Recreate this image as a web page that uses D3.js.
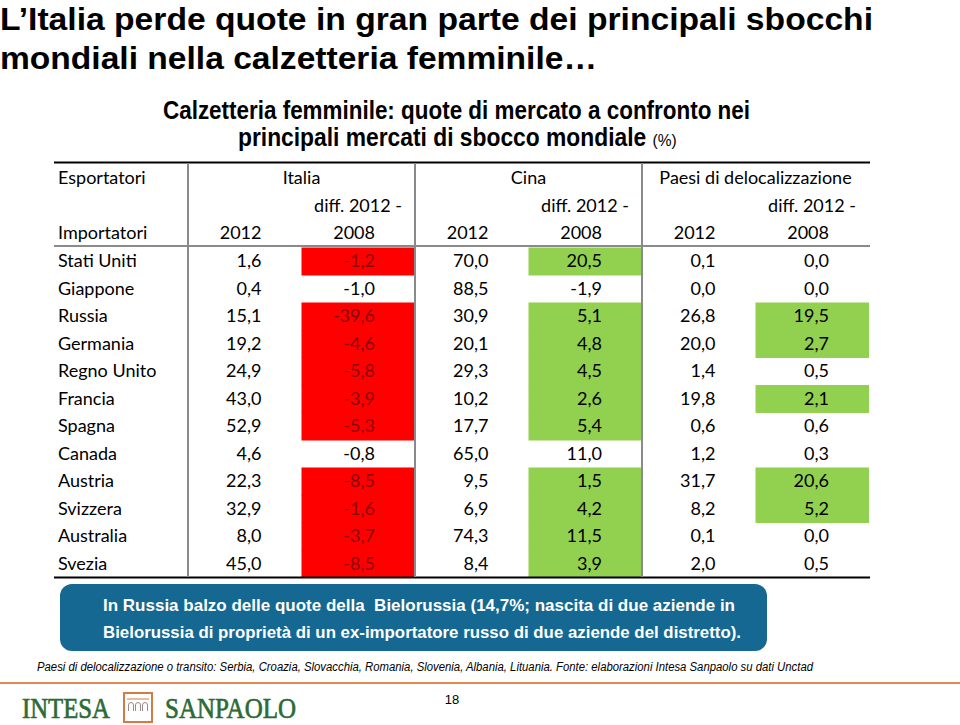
<!DOCTYPE html>
<html><head><meta charset="utf-8">
<script src="https://cdn.jsdelivr.net/npm/d3@7"></script>
<style>body{margin:0;background:#fff}svg{display:block}</style>
</head><body>
<svg id="c" width="960" height="725"></svg>
<script>
const titleLines = ["L\u2019Italia perde quote in gran parte dei principali sbocchi", "mondiali nella calzetteria femminile\u2026"];
const subtitleLines = ["Calzetteria femminile: quote di mercato a confronto nei", "principali mercati di sbocco mondiale"];
const groups = ["Italia", "Cina", "Paesi di delocalizzazione"];
const countries = ["Stati Uniti","Giappone","Russia","Germania","Regno Unito","Francia","Spagna","Canada","Austria","Svizzera","Australia","Svezia"];
const italia2012 = [1.6,0.4,15.1,19.2,24.9,43.0,52.9,4.6,22.3,32.9,8.0,45.0];
const italiaDiff = [-1.2,-1.0,-39.6,-4.6,-5.8,-3.9,-5.3,-0.8,-8.5,-1.6,-3.7,-8.5];
const cina2012 = [70.0,88.5,30.9,20.1,29.3,10.2,17.7,65.0,9.5,6.9,74.3,8.4];
const cinaDiff = [20.5,-1.9,5.1,4.8,4.5,2.6,5.4,11.0,1.5,4.2,11.5,3.9];
const paesi2012 = [0.1,0.0,26.8,20.0,1.4,19.8,0.6,1.2,31.7,8.2,0.1,2.0];
const paesiDiff = [0.0,0.0,19.5,2.7,0.5,2.1,0.6,0.3,20.6,5.2,0.0,0.5];
const italiaFlag = [1,0,1,1,1,1,1,0,1,1,1,1];
const cinaFlag = [1,0,1,1,1,1,1,0,1,1,1,1];
const paesiFlag = [0,0,1,1,0,1,0,0,1,1,0,0];
const boxLines = ["In Russia balzo delle quote della  Bielorussia (14,7%; nascita di due aziende in", "Bielorussia di propriet\u00e0 di un ex-importatore russo di due aziende del distretto)."];
const footnote = "Paesi di delocalizzazione o transito: Serbia, Croazia, Slovacchia, Romania, Slovenia, Albania, Lituania. Fonte: elaborazioni Intesa Sanpaolo su dati Unctad";
const pageNum = "18";

const svg = d3.select("#c");
const loc = d3.formatLocale({decimal:",", thousands:".", grouping:[3], currency:["","\u20ac"], minus:"-"});
const fmt = loc.format(".1f");

// Title
svg.append("g").selectAll("text").data(titleLines).join("text")
  .attr("x", 0).attr("y", (d,i)=> 30 + i*39)
  .attr("font-family","Liberation Sans, Arial, sans-serif").attr("font-weight","bold")
  .attr("font-size", 32).attr("fill","#000")
  .attr("textLength", (d,i)=> i===0 ? 873 : 597).attr("lengthAdjust","spacingAndGlyphs")
  .text(d=>d);

// Subtitle
svg.append("text").attr("x",163).attr("y",119)
  .attr("font-family","Liberation Sans, Arial, sans-serif").attr("font-weight","bold").attr("font-size",25)
  .attr("textLength",587).attr("lengthAdjust","spacingAndGlyphs").text(subtitleLines[0]);
// second line: condensed via horizontal scale so that its real box matches its drawn size
const st2 = svg.append("text").attr("x",0).attr("y",0)
  .attr("font-family","Liberation Sans, Arial, sans-serif");
st2.append("tspan").attr("font-weight","bold").attr("font-size",25).text(subtitleLines[1] + " ");
st2.append("tspan").attr("font-size",17).text("(%)");
const natW = st2.node().getComputedTextLength();
st2.attr("transform", `translate(238,146) scale(${439/natW},1)`);

// Table
const cols = ["it12","itd","cn12","cnd","pd12","pdd"];
const x = d3.scaleBand().domain(cols).range([188, 869]);
const y = d3.scaleBand().domain(countries).range([247.5, 577.5]);
const yh = d3.scaleBand().domain(["esp","diff","imp"]).range([164, 247]);
const tf = "Lato, 'Open Sans', sans-serif";
const T = svg.append("g").attr("font-family", tf).attr("font-size", 18);

const series = [
  {col:"it12", vals: italia2012, flags:null},
  {col:"itd", vals: italiaDiff, flags: italiaFlag, fill:"#ff0000", tc:"#8c0000"},
  {col:"cn12", vals: cina2012, flags:null},
  {col:"cnd", vals: cinaDiff, flags: cinaFlag, fill:"#92d050", tc:"#000"},
  {col:"pd12", vals: paesi2012, flags:null},
  {col:"pdd", vals: paesiDiff, flags: paesiFlag, fill:"#92d050", tc:"#000"}
];

// Cell fills
series.filter(s=>s.flags).forEach(s=>{
  T.append("g").selectAll("rect").data(countries.map((c,i)=>({c, f:s.flags[i]})).filter(d=>d.f)).join("rect")
    .attr("x", x(s.col)).attr("width", x.bandwidth())
    .attr("y", d=>y(d.c)).attr("height", y.bandwidth()+0.5)
    .attr("fill", s.fill);
});

// Lines
T.append("line").attr("x1",54).attr("x2",870).attr("y1",162.5).attr("y2",162.5).attr("stroke","#000").attr("stroke-width",2);
T.append("line").attr("x1",54).attr("x2",870).attr("y1",577.5).attr("y2",577.5).attr("stroke","#000").attr("stroke-width",2);
T.append("line").attr("x1",54).attr("x2",870).attr("y1",246).attr("y2",246).attr("stroke","#8a8a8a").attr("stroke-width",2);
T.append("g").selectAll("line").data(["it12","cn12","pd12"]).join("line")
  .attr("x1", d=>x(d)).attr("x2", d=>x(d)).attr("y1",163).attr("y2",577)
  .attr("stroke","#8a8a8a").attr("stroke-width",2);

// Header text
T.append("text").attr("x",58).attr("y",yh("esp")+yh.bandwidth()/2+6).text("Esportatori");
T.append("text").attr("x",58).attr("y",yh("imp")+yh.bandwidth()/2+6).text("Importatori");
const grpCols = [["it12","itd"],["cn12","cnd"],["pd12","pdd"]];
T.append("g").selectAll("text").data(groups).join("text")
  .attr("x",(d,i)=> (x(grpCols[i][0]) + x(grpCols[i][1]) + x.bandwidth())/2)
  .attr("y", yh("esp")+yh.bandwidth()/2+6).attr("text-anchor","middle").text(d=>d);
grpCols.forEach(gc=>{
  T.append("text").attr("x", x(gc[1])+x.bandwidth()-13).attr("y", yh("diff")+yh.bandwidth()/2+6)
    .attr("text-anchor","end").text("diff. 2012 -");
  T.append("text").attr("x", x(gc[1])+x.bandwidth()-40).attr("y", yh("imp")+yh.bandwidth()/2+6)
    .attr("text-anchor","end").text("2008");
  T.append("text").attr("x", x(gc[0])+x.bandwidth()-40).attr("y", yh("imp")+yh.bandwidth()/2+6)
    .attr("text-anchor","end").text("2012");
});

// Row labels
T.append("g").selectAll("text").data(countries).join("text")
  .attr("x",58).attr("y", d=>y(d)+y.bandwidth()/2+6).text(d=>d);

// Values
series.forEach(s=>{
  T.append("g").selectAll("text").data(s.vals.map((v,i)=>({v, c:countries[i], f: s.flags ? s.flags[i] : 0}))).join("text")
    .attr("x", x(s.col)+x.bandwidth()-40).attr("y", d=>y(d.c)+y.bandwidth()/2+6)
    .attr("text-anchor","end")
    .attr("fill", d=> d.f ? s.tc : "#000")
    .text(d=>fmt(d.v));
});

// Blue box
svg.append("rect").attr("x",60).attr("y",584).attr("width",707).attr("height",67).attr("rx",12).attr("fill","#156891");
svg.append("g").selectAll("text").data(boxLines).join("text")
  .attr("x",103).attr("y",(d,i)=>611+i*27)
  .style("white-space","pre")
  .attr("font-family","Liberation Sans, Arial, sans-serif").attr("font-weight","bold").attr("font-size",16.5)
  .attr("fill","#fff").attr("textLength",(d,i)=> i===0 ? 632 : 638).attr("lengthAdjust","spacingAndGlyphs")
  .text(d=>d);

// Footnote
svg.append("text").attr("x",37).attr("y",671)
  .attr("font-family","Liberation Sans, Arial, sans-serif").attr("font-style","italic").attr("font-size",12)
  .attr("textLength",776).attr("lengthAdjust","spacingAndGlyphs").text(footnote);

// Orange rule
svg.append("line").attr("x1",0).attr("x2",960).attr("y1",683).attr("y2",683).attr("stroke","#e58a4e").attr("stroke-width",2);

// Page number
svg.append("text").attr("x",452).attr("y",704).attr("text-anchor","middle")
  .attr("font-family","Liberation Sans, Arial, sans-serif").attr("font-size",13).text(pageNum);

// Logo
const L = svg.append("g");
L.append("text").attr("x",22).attr("y",718).attr("font-family","Liberation Serif, serif").attr("font-size",30)
  .attr("fill","#2c6b36").attr("stroke","#2c6b36").attr("stroke-width",0.7)
  .attr("textLength",88).attr("lengthAdjust","spacingAndGlyphs").text("INTESA");
L.append("text").attr("x",165).attr("y",718).attr("font-family","Liberation Serif, serif").attr("font-size",30)
  .attr("fill","#2c6b36").attr("stroke","#2c6b36").attr("stroke-width",0.7)
  .attr("textLength",131).attr("lengthAdjust","spacingAndGlyphs").text("SANPAOLO");
L.append("rect").attr("x",124).attr("y",693).attr("width",28).attr("height",29).attr("fill","none").attr("stroke","#cf7d43").attr("stroke-width",2);
L.append("line").attr("x1",127).attr("x2",149).attr("y1",699).attr("y2",699).attr("stroke","#cf7d43").attr("stroke-width",1);
[0,1,2].forEach(k=>{
  const cx = 131 + k*7;
  L.append("path").attr("d",`M${cx-2.5},711 L${cx-2.5},705 A2.5,2.5 0 0 1 ${cx+2.5},705 L${cx+2.5},711`)
    .attr("fill","none").attr("stroke","#9a8a8a").attr("stroke-width",1);
});
</script>
</body></html>
